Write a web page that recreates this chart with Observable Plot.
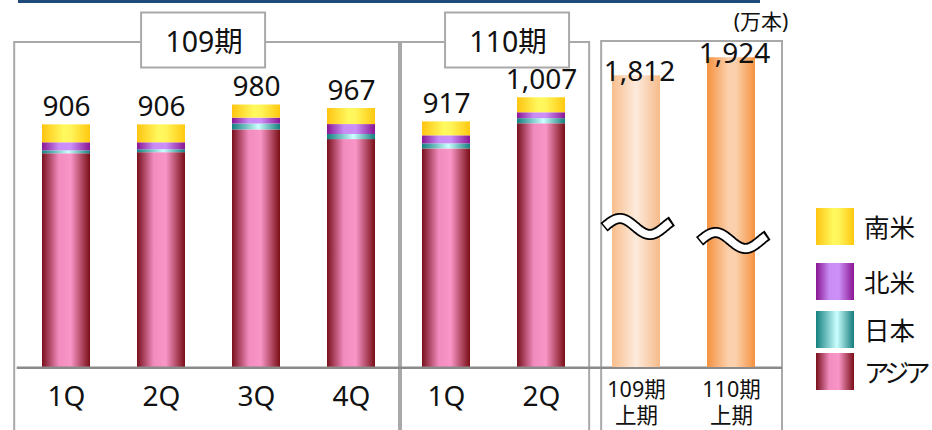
<!DOCTYPE html>
<html><head><meta charset="utf-8">
<script src="https://cdn.jsdelivr.net/npm/d3@7"></script>
<script src="https://cdn.jsdelivr.net/npm/@observablehq/plot@0.6"></script>
<style>
html,body{margin:0;padding:0;background:#fff;}
#wrap{position:relative;width:932px;height:430px;overflow:hidden;}
#wrap > svg{position:absolute;left:0;top:0;}
</style></head><body>
<svg width="0" height="0" style="position:absolute;left:0;top:0">
<defs>
 <linearGradient id="g-asia" x1="0" x2="1" y1="0" y2="0">
  <stop offset="0" stop-color="#78101c"/><stop offset="0.35" stop-color="#f28cbf"/>
  <stop offset="0.6" stop-color="#f995c7"/><stop offset="1" stop-color="#790e16"/>
 </linearGradient>
 <linearGradient id="g-japan" x1="0" x2="1" y1="0" y2="0">
  <stop offset="0" stop-color="#158080"/><stop offset="0.55" stop-color="#cbffff"/>
  <stop offset="1" stop-color="#157c7c"/>
 </linearGradient>
 <linearGradient id="g-na" x1="0" x2="1" y1="0" y2="0">
  <stop offset="0" stop-color="#8a1592"/><stop offset="0.35" stop-color="#c98cf5"/>
  <stop offset="0.6" stop-color="#cc90f8"/><stop offset="1" stop-color="#8a1592"/>
 </linearGradient>
 <linearGradient id="g-sa" x1="0" x2="1" y1="0" y2="0">
  <stop offset="0" stop-color="#ffc412"/><stop offset="0.45" stop-color="#fff95e"/>
  <stop offset="0.6" stop-color="#fff55a"/><stop offset="1" stop-color="#ffc80f"/>
 </linearGradient>
 <linearGradient id="g-h109" x1="0" x2="1" y1="0" y2="0">
  <stop offset="0" stop-color="#f8bd8c"/><stop offset="0.5" stop-color="#fdebdd"/>
  <stop offset="1" stop-color="#f6bb8a"/>
 </linearGradient>
 <linearGradient id="g-h110" x1="0" x2="1" y1="0" y2="0">
  <stop offset="0" stop-color="#f5913f"/><stop offset="0.45" stop-color="#fbd1ae"/>
  <stop offset="0.6" stop-color="#fbd0ab"/><stop offset="1" stop-color="#f5923f"/>
 </linearGradient>
</defs></svg>
<div id="wrap"></div>
<script>
// ---- data ----
const quarterKeys = ["109-1Q","109-2Q","109-3Q","109-4Q","110-1Q","110-2Q"];
const quarterTicks = ["1Q","2Q","3Q","4Q","1Q","2Q"];
const halfKeys = ["109-H1","110-H1"];
const halfTicksLine1 = ["109期","110期"];
const halfTicksLine2 = ["上期","上期"];
const seriesNames = ["アジア","日本","北米","南米"];
const asia = [798, 802, 887, 851, 816, 910];
const japan = [11, 11, 22, 19, 19, 19];
const northAmerica = [30, 26, 22, 37, 30, 22];
const southAmerica = [67, 67, 49, 60, 52, 56];
const quarterTotals = [906, 906, 980, 967, 917, 1007];
const halfTotals = [1812, 1924];
const groupLabels = ["109期","110期"];
const unitLabel = "(万本)";

// ---- styles ----
const seriesFill = {"アジア":"url(#g-asia)","日本":"url(#g-japan)","北米":"url(#g-na)","南米":"url(#g-sa)"};
const halfFill = ["url(#g-h109)","url(#g-h110)"];
const font = '"Noto Sans","Noto Sans CJK JP",sans-serif';
const fmt = d3.format(",");

const seriesValues = [asia, japan, northAmerica, southAmerica];
const rows = quarterKeys.flatMap((k, i) => seriesNames.map((s, j) => ({key: k, series: s, value: seriesValues[j][i]})));
const allKeys = [...quarterKeys, ...halfKeys];
const R0 = 16.7, R1 = 781.3, PI = 0.49, PO = 0.245;
const xOpts = {type: "band", domain: allKeys, range: [R0, R1], paddingInner: PI, paddingOuter: PO, axis: null};
const common = {width: 932, height: 430, marginTop: 0, marginRight: 0, marginBottom: 63, marginLeft: 0};

const main = Plot.plot({
  ...common,
  style: {background: "white", fontFamily: font, color: "#000", overflow: "visible"},
  x: xOpts,
  y: {domain: [0, 1200], range: [367, 45.6], axis: null},
  color: {type: "identity"},
  marks: [
    Plot.barY(rows, {x: "key", y: "value", fill: d => seriesFill[d.series]}),
    Plot.text(quarterKeys, {x: d => d, y: (d, i) => quarterTotals[i], text: (d, i) => fmt(quarterTotals[i]),
      dy: -9, lineAnchor: "bottom", fontSize: 28, fill: "#111"}),
    Plot.text(quarterKeys, {x: d => d, frameAnchor: "bottom", text: (d, i) => quarterTicks[i],
      dy: 19, lineAnchor: "top", fontSize: 28, fill: "#111"}),
    Plot.text(halfKeys, {x: d => d, frameAnchor: "bottom", text: (d, i) => halfTicksLine1[i],
      dy: 29, lineAnchor: "bottom", fontSize: 21.5, fill: "#111"}),
    Plot.text(halfKeys, {x: d => d, frameAnchor: "bottom", text: (d, i) => halfTicksLine2[i],
      dy: 55.5, lineAnchor: "bottom", fontSize: 21.5, fill: "#111"})
  ]
});

const over = Plot.plot({
  ...common,
  style: {background: "transparent", fontFamily: font, color: "#000", overflow: "visible"},
  x: xOpts,
  y: {domain: [0, 2000], range: [367, 45], axis: null},
  color: {type: "identity"},
  marks: [
    Plot.barY(halfKeys, {x: d => d, y: (d, i) => halfTotals[i], fill: (d, i) => halfFill[i]}),
    Plot.text(halfKeys, {x: d => d, y: (d, i) => halfTotals[i], text: (d, i) => fmt(halfTotals[i]),
      dy: 5, dx: 3, lineAnchor: "bottom", fontSize: 28, fill: "#111"})
  ]
});

const wrap = document.getElementById("wrap");
wrap.appendChild(main);
wrap.appendChild(over);

// ---- decorations tied to the x scale ----
const xs = d3.scaleBand().domain(allKeys).range([R0, R1]).paddingInner(PI).paddingOuter(PO);
const cx = k => xs(k) + xs.bandwidth() / 2;
const b1 = (cx(quarterKeys[3]) + cx(quarterKeys[4])) / 2;
const b2 = (cx(quarterKeys[5]) + cx(halfKeys[0])) / 2;
const frames = [
  {l: R0 - 2.5, r: b1, t: 42},
  {l: b1 + 2, r: b2 - 1, t: 42},
  {l: b2 + 11, r: R1 + 0.7, t: 41}
];
const svg = d3.select(main);
const deco = svg.append("g").attr("text-anchor", "start");
deco.selectAll("path.frame").data(frames).join("path")
  .attr("d", f => `M${f.l},431V${f.t}H${f.r}V431`)
  .attr("fill", "none").attr("stroke", "#a9a9a9").attr("stroke-width", 2);
deco.append("line").attr("x1", R0).attr("x2", R1 + 0.7).attr("y1", 367.8).attr("y2", 367.8)
  .attr("stroke", "#8a8a8a").attr("stroke-width", 2.4);

// group label boxes
const boxCenters = [(frames[0].l + frames[0].r) / 2 - 3.5, (frames[1].l + frames[1].r) / 2 + 12];
groupLabels.forEach((t, i) => {
  deco.append("rect").attr("x", boxCenters[i] - 62).attr("y", 12.5).attr("width", 124).attr("height", 55)
    .attr("fill", "#fff").attr("stroke", "#a9a9a9").attr("stroke-width", 2);
  deco.append("text").attr("x", boxCenters[i] + 1).attr("y", 52).attr("text-anchor", "middle")
    .attr("font-size", 28.5).attr("fill", "#111").text(t);
});
// unit
deco.append("text").attr("x", 761).attr("y", 28.5).attr("text-anchor", "middle")
  .attr("font-size", 21).attr("fill", "#111").text(unitLabel);
// top band
deco.append("rect").attr("x", 18).attr("y", 0).attr("width", 742).attr("height", 3).attr("fill", "#1f4a7c");

// legend
const legendOrder = seriesNames.slice().reverse();
const legendY = [208, 263, 311, 353];
legendOrder.forEach((s, i) => {
  deco.append("rect").attr("x", 816).attr("y", legendY[i]).attr("width", 38).attr("height", 37)
    .attr("fill", seriesFill[s]);
  const t = deco.append("text").attr("x", 864).attr("y", legendY[i] + 18.5 + 10).attr("font-size", 25.5)
    .attr("text-anchor", "start").attr("fill", "#111").text(s);
  const w = t.node().getComputedTextLength();
  if (w > 62) t.attr("letter-spacing", -((w - 62) / s.length).toFixed(2));
});

// break symbols on the half-year bars
const osvg = d3.select(over);
const breakY = [226.5, 240.5];
const wave = (x0, x1) => d3.range(x0, x1 + 0.01, 1).map(x => [x, -8 * Math.sin(Math.PI * (x + 33) / 30)]);
const line = d3.line();
halfKeys.forEach((k, i) => {
  const g = osvg.append("g").attr("transform", `translate(${cx(k)},${breakY[i]})`);
  g.append("path").attr("d", line(wave(-34, 34))).attr("fill", "none").attr("stroke", "#000")
    .attr("stroke-width", 11).attr("stroke-linejoin", "round");
  g.append("path").attr("d", line(wave(-32.8, 32.8))).attr("fill", "none").attr("stroke", "#fff")
    .attr("stroke-width", 7.5).attr("stroke-linejoin", "round");
});
</script>
</body></html>
